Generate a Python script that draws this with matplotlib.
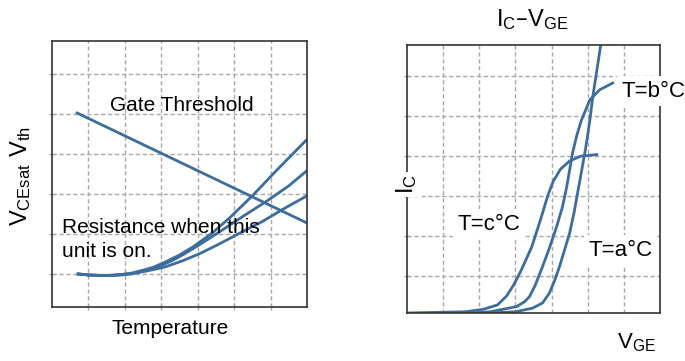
import numpy as np
from matplotlib import pyplot as plt

plt.rcParams['font.family'] = ['Liberation Sans', 'DejaVu Sans']
plt.rcParams['mathtext.default'] = 'regular'

# left panel: V_CEsat / V_th against temperature
gate_x = [0.69, 7.0]
gate_y = [4.85, 2.10]
res_top_x = [0.68, 1.0, 1.3, 1.6, 1.9, 2.2, 2.5, 2.8, 3.1, 3.5, 3.9, 4.4, 4.9, 5.5, 6.2, 7.0]
res_top_y = [0.83, 0.80, 0.79, 0.79, 0.81, 0.85, 0.92, 1.0, 1.12, 1.30, 1.52, 1.85, 2.25, 2.78, 3.45, 4.19]
res_mid_x = [0.68, 1.0, 1.3, 1.6, 1.9, 2.2, 2.5, 2.9, 3.3, 3.6, 4.0, 4.55, 5.3, 5.9, 6.5, 7.0]
res_mid_y = [0.83, 0.80, 0.79, 0.79, 0.81, 0.84, 0.90, 1.0, 1.16, 1.31, 1.53, 1.85, 2.3, 2.65, 3.03, 3.41]
res_low_x = [0.68, 1.0, 1.3, 1.6, 1.9, 2.2, 2.6, 3.1, 3.6, 4.07, 4.6, 5.16, 5.8, 6.35, 7.0]
res_low_y = [0.83, 0.80, 0.79, 0.79, 0.80, 0.83, 0.90, 1.0, 1.16, 1.34, 1.58, 1.85, 2.15, 2.45, 2.78]

# right panel: I_C - V_GE at three temperatures
tc_x = [0, 1.6, 2.1, 2.5, 2.75, 2.95, 3.15, 3.45, 3.7, 3.9, 4.05, 4.25, 4.5, 4.8, 5.25]
tc_y = [0, 0.03, 0.09, 0.2, 0.42, 0.7, 1.05, 1.65, 2.35, 2.95, 3.3, 3.6, 3.8, 3.92, 3.96]
tb_x = [1.7, 2.3, 3.03, 3.25, 3.39, 3.55, 3.75, 3.95, 4.14, 4.3, 4.42, 4.58, 4.7, 4.83, 5.06, 5.33, 5.69]
tb_y = [0, 0.03, 0.16, 0.28, 0.41, 0.7, 1.16, 1.65, 2.16, 2.65, 3.16, 4.0, 4.45, 4.83, 5.33, 5.58, 5.75]
ta_x = [2.3, 3.0, 3.47, 3.75, 3.94, 4.08, 4.22, 4.36, 4.5, 4.62, 4.72, 4.82, 4.92, 5.0, 5.06, 5.14, 5.25, 5.36]
ta_y = [0, 0.03, 0.12, 0.25, 0.5, 0.8, 1.16, 1.58, 2.0, 2.5, 3.0, 3.5, 4.0, 4.45, 4.83, 5.41, 6.05, 6.7]

blue = '#3d6d9e'
gridc = '#a8a8a8'
lw = 2.0

fig = plt.figure(figsize=(6.85, 3.61), dpi=100)
axL = fig.add_axes([0.0759, 0.1496, 0.3723, 0.7368])
axR = fig.add_axes([0.5942, 0.1330, 0.3693, 0.7423])

def style(ax, ytop, yoff, bottom_ticks):
    ax.set_xlim(0, 7)
    ax.set_ylim(0, ytop)
    ax.set_xticks(np.arange(1, 7))
    ax.set_yticks(np.arange(6) + yoff)
    ax.grid(True, color=gridc, lw=1, linestyle=(0, (3, 2)))
    ax.tick_params(labelleft=False, labelbottom=False, color=gridc,
                   direction='inout', length=5, width=1)
    if not bottom_ticks:
        ax.tick_params(axis='x', length=0)
    for s in ax.spines.values():
        s.set_color('#333333')
        s.set_linewidth(1.2)
        s.set_zorder(2.5)
    ax.set_axisbelow(True)

style(axL, 6.65, 0.825, True)
style(axR, 6.7, 0.925, False)

axL.plot(gate_x, gate_y, color=blue, lw=lw)
for xs, ys in [(res_top_x, res_top_y), (res_mid_x, res_mid_y), (res_low_x, res_low_y)]:
    axL.plot(xs, ys, color=blue, lw=lw, solid_capstyle='butt')

axL.text(1.59, 4.9, 'Gate Threshold', fontsize=15, va='baseline', ha='left')
axL.text(0.27, 1.84, 'Resistance when this', fontsize=15, va='baseline', ha='left')
axL.text(0.27, 1.25, 'unit is on.', fontsize=15, va='baseline', ha='left')

for xs, ys in [(tc_x, tc_y), (tb_x, tb_y), (ta_x, ta_y)]:
    axR.plot(xs, ys, color=blue, lw=lw)

box = dict(boxstyle='square,pad=0.2', fc='white', ec='none')
axR.text(5.94, 5.41, 'T=b°C', fontsize=16, va='baseline', ha='left',
         bbox=box, zorder=5, clip_on=False)
axR.text(1.39, 2.08, 'T=c°C', fontsize=16, va='baseline', ha='left',
         bbox=box, zorder=5)
axR.text(5.01, 1.43, 'T=a°C', fontsize=16, va='baseline', ha='left',
         bbox=box, zorder=5)

fig.text(0.248, 0.075, 'Temperature', fontsize=15, ha='center', va='baseline')
fig.text(0.030, 0.512, r'$V_{CEsat}\ V_{th}$', fontsize=17, rotation=90,
         ha='center', va='center')
fig.text(0.777, 0.928, r'$I_C$–$V_{GE}$', fontsize=17, ha='center', va='baseline')
fig.text(0.9007, 0.036, r'$V_{GE}$', fontsize=16, ha='left', va='baseline')
fig.text(0.594, 0.49, r'$I_C$', fontsize=17, rotation=90, ha='center', va='center',
         bbox=dict(boxstyle='square,pad=0.1', fc='white', ec='none'), zorder=5)

fig.savefig('out.png', dpi=100)
